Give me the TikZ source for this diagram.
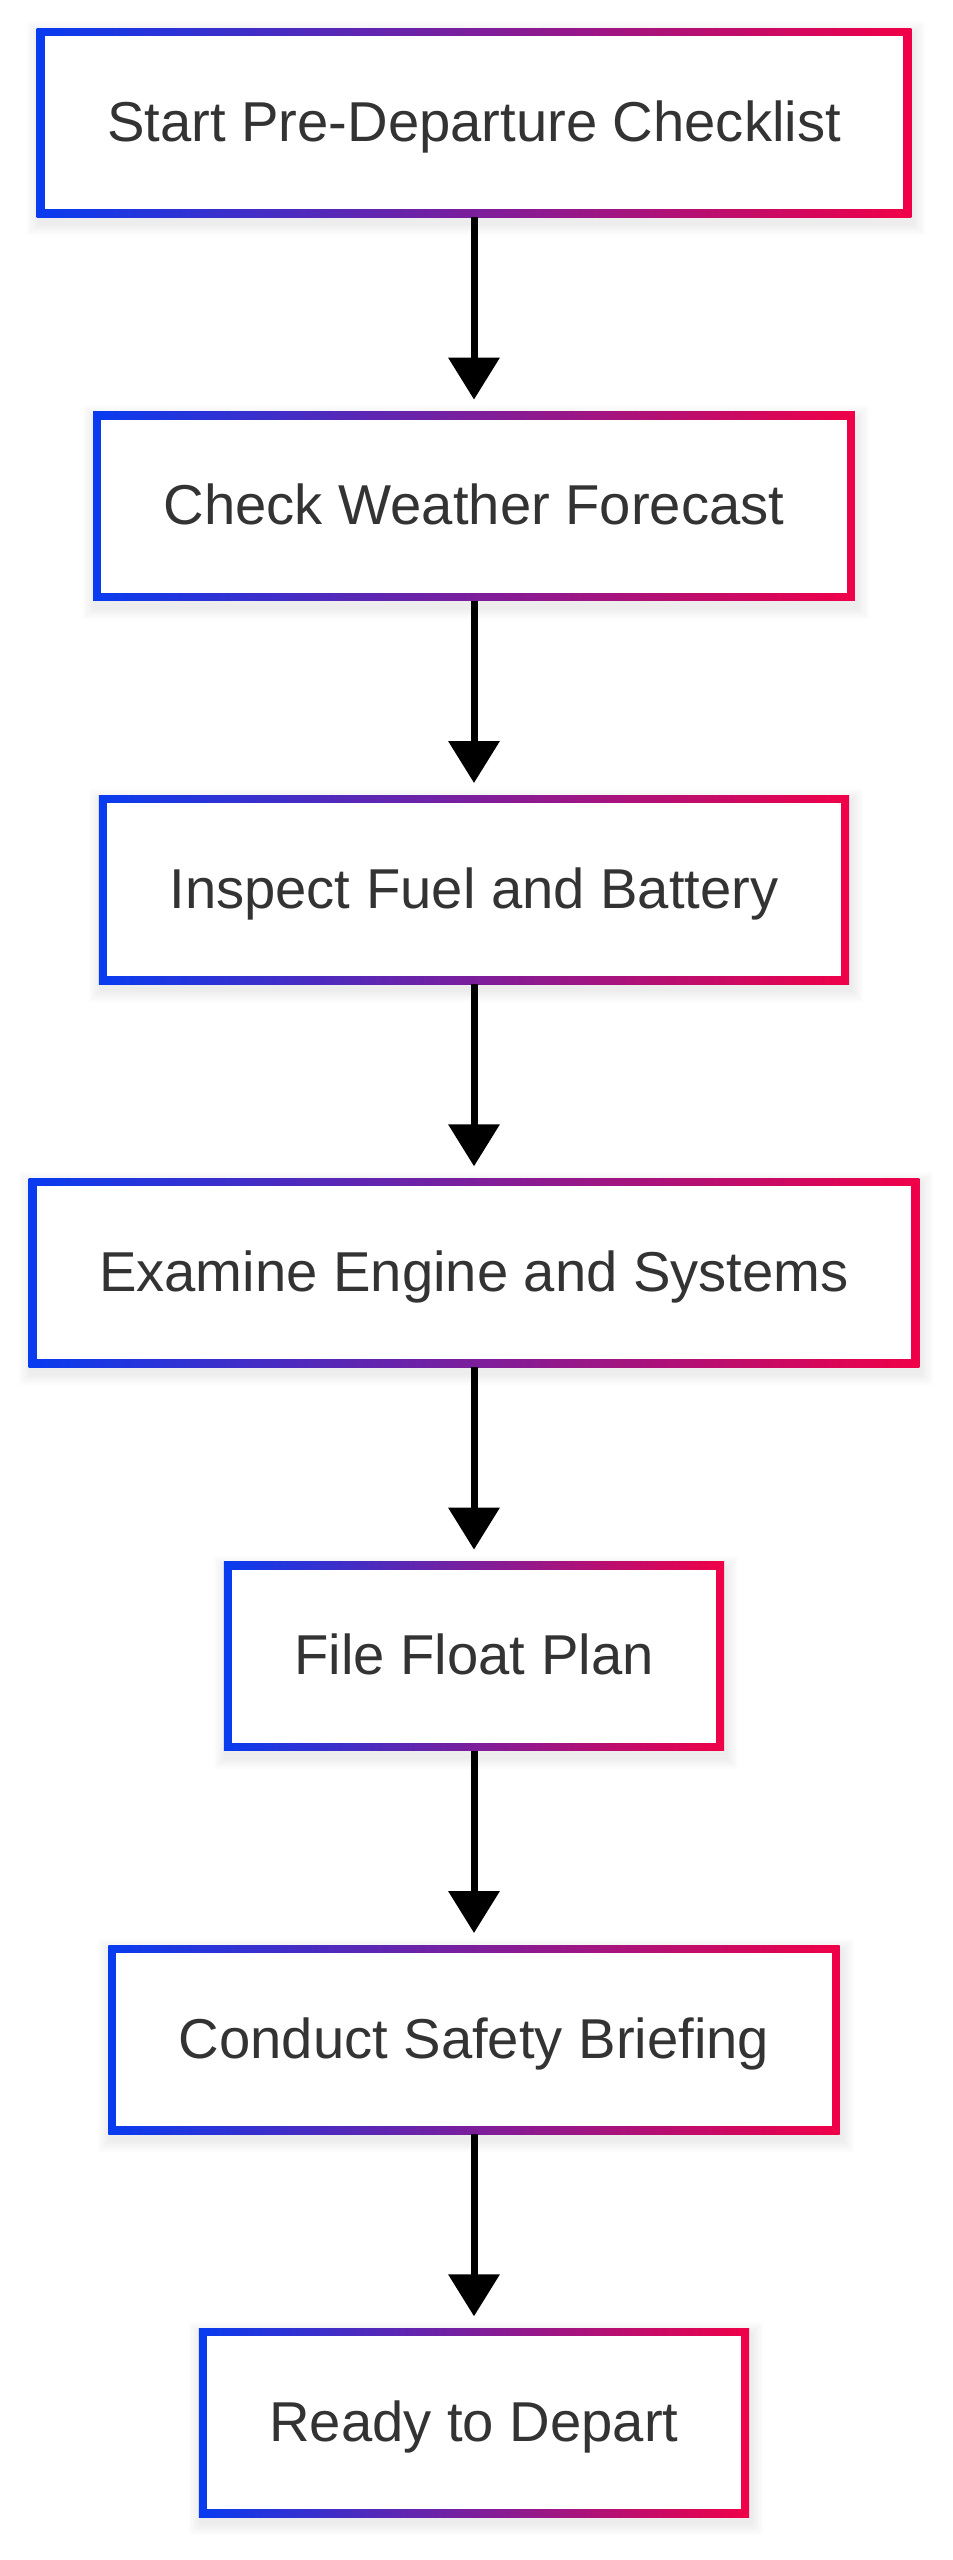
\documentclass[tikz,border=0pt]{standalone}
\usepackage{fontspec}
\setmainfont{Liberation Sans}
\usetikzlibrary{arrows.meta}
\pgfdeclarelayer{background}
\pgfsetlayers{background,main}
\definecolor{gblue}{RGB}{8,60,240}
\definecolor{gred}{RGB}{240,0,72}
\definecolor{textgray}{RGB}{51,51,51}
\newcommand{\boxfont}{\fontsize{56.2pt}{60pt}\selectfont}
\tikzset{
  stepbox/.style={rectangle, minimum height=189pt, inner xsep=70.5pt, inner ysep=0pt,
    outer sep=0pt, text=textgray, font=\boxfont, text height=40.5pt, text depth=2.8pt,
    path picture={
      \shade[left color=gblue, right color=gred]
        (path picture bounding box.south west) rectangle (path picture bounding box.north east);
      \fill[white]
        ([shift={(8,-8)}]path picture bounding box.south west) rectangle
        ([shift={(-8,8)}]path picture bounding box.north east);
    }},
  flow/.style={draw=black, line width=7pt, shorten >=12pt,
    -{Triangle[length=42pt,width=50pt]}}
}
\begin{document}
\begin{tikzpicture}[x=1pt,y=-1pt]
\begin{pgfonlayer}{background}
  \fill[white] (0,0) rectangle (953,2560);
\end{pgfonlayer}
\useasboundingbox (0,0) rectangle (953,2560);

\node[stepbox] (n1) at (474,122.8) {Start Pre-Departure Checklist};
\node[stepbox] (n2) at (474,506.1) {Check Weather Forecast};
\node[stepbox] (n3) at (474,889.5) {Inspect Fuel and Battery};
\node[stepbox] (n4) at (474,1272.8) {Examine Engine and Systems};
\node[stepbox] (n5) at (474,1656.1) {File Float Plan};
\node[stepbox] (n6) at (474,2039.5) {Conduct Safety Briefing};
\node[stepbox] (n7) at (474,2422.8) {Ready to Depart};

\begin{pgfonlayer}{background}
  \foreach \n in {n1,n2,n3,n4,n5,n6,n7}{
    \foreach \d in {2,4,...,12}{
      \fill[black, opacity=0.012]
        ([shift={(2-\d,6-\d)}]\n.north west) rectangle ([shift={(2+\d,6+\d)}]\n.south east);
    }
  }
\end{pgfonlayer}

\draw[flow] (n1.south) -- (n2.north);
\draw[flow] (n2.south) -- (n3.north);
\draw[flow] (n3.south) -- (n4.north);
\draw[flow] (n4.south) -- (n5.north);
\draw[flow] (n5.south) -- (n6.north);
\draw[flow] (n6.south) -- (n7.north);
\end{tikzpicture}
\end{document}
